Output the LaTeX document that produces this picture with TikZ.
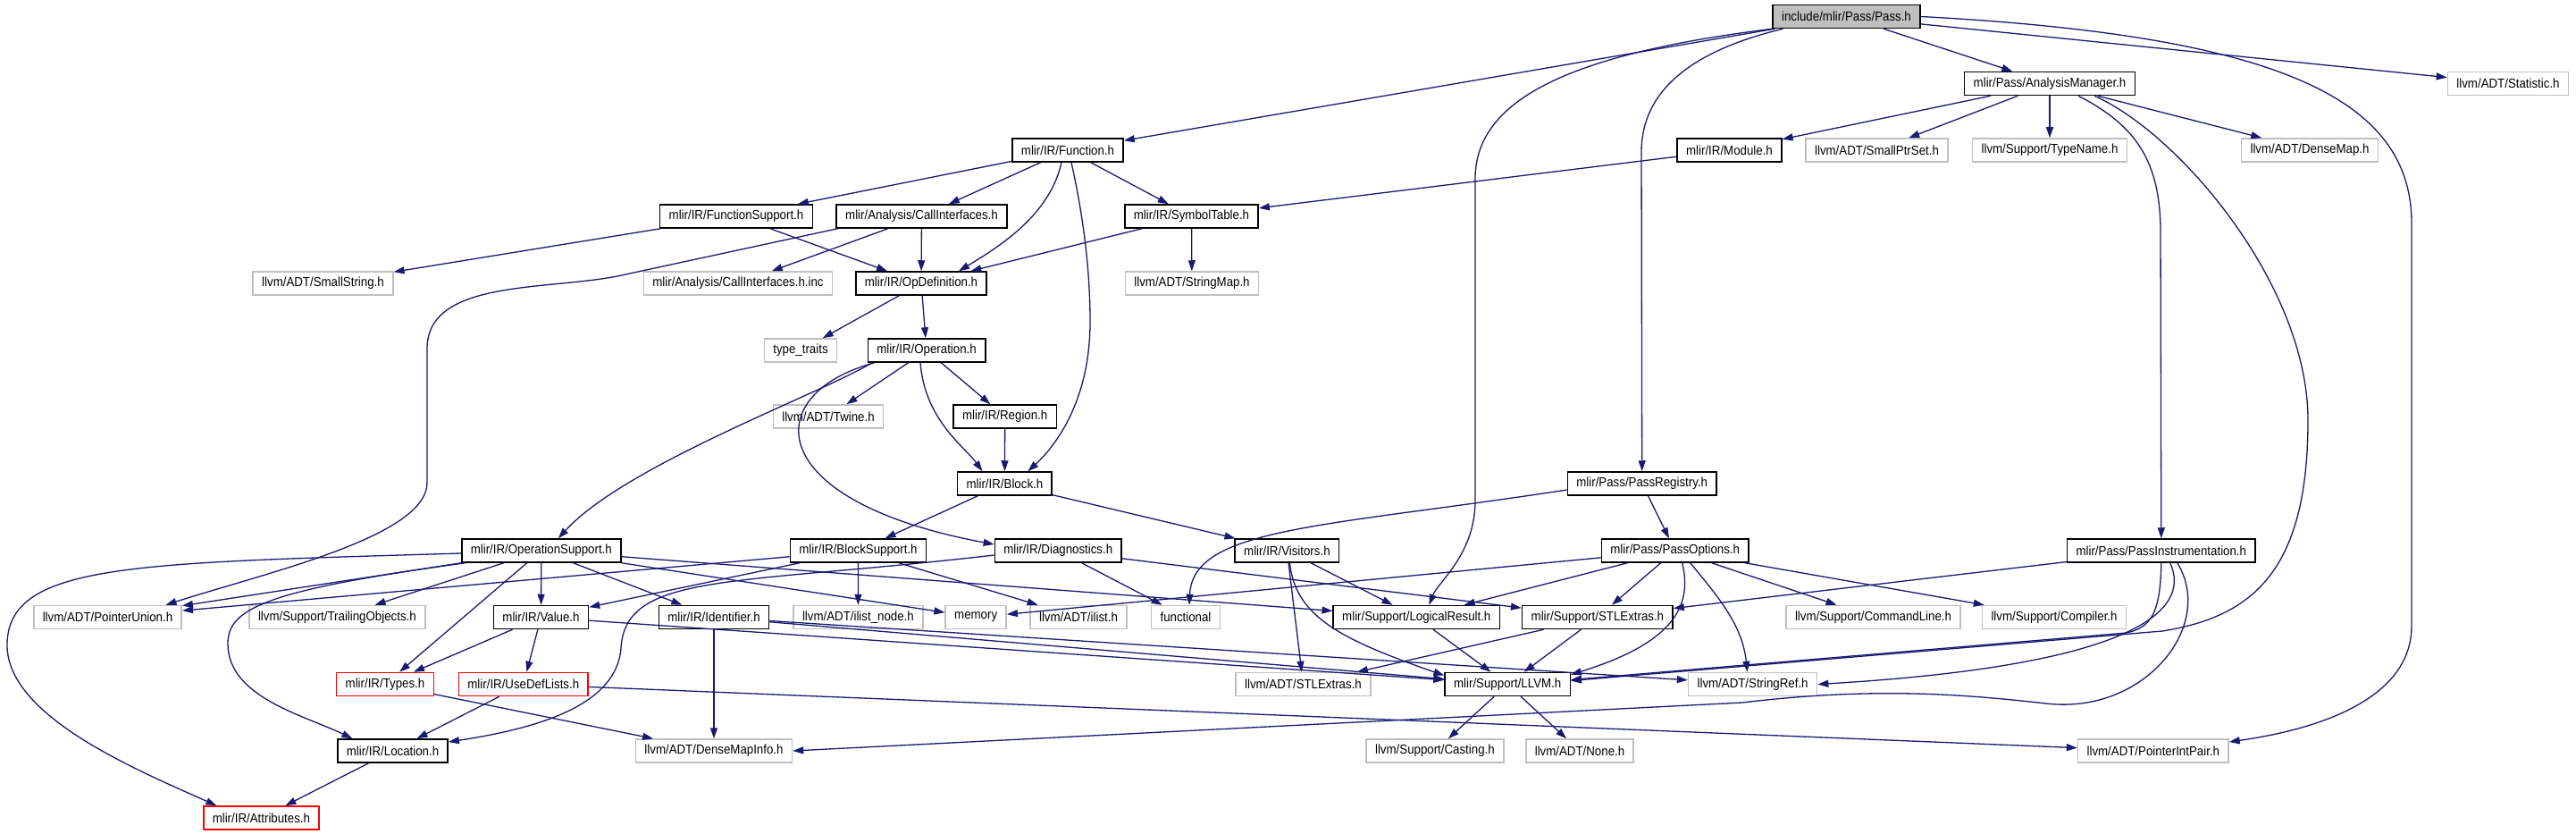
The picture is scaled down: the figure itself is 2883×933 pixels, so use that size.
\documentclass[tikz,border=0pt]{standalone}
\usepackage{fontspec}
\setmainfont{Liberation Sans}[FakeStretch=0.91]
\usetikzlibrary{arrows.meta}
\definecolor{edgeblue}{HTML}{191970}
\definecolor{extgray}{HTML}{BFBFBF}
\newcommand\depfont{\fontsize{14.6pt}{16pt}\selectfont}
\begin{document}
\begin{tikzpicture}[x=1pt, y=-1pt,
  hdr/.style={draw=black, line width=1.5pt, fill=white, minimum height=26pt, inner xsep=10pt, inner ysep=0pt, font=\depfont},
  ext/.style={hdr, draw=extgray},
  trunc/.style={hdr, draw=red},
  root/.style={hdr, fill=extgray},
  dep/.style={draw=edgeblue, line width=1.3pt, -{Triangle[length=12pt, width=8pt]}}]
\useasboundingbox (0,0) rectangle (2883,933);
\node[root] (pass) at (2066.5,18.5) {include/mlir/Pass/Pass.h};
\node[hdr] (anamgr) at (2294,93.5) {mlir/Pass/AnalysisManager.h};
\node[ext] (statistic) at (2807,93.5) {llvm/ADT/Statistic.h};
\node[hdr] (function) at (1195,168) {mlir/IR/Function.h};
\node[hdr] (module) at (1935.5,168) {mlir/IR/Module.h};
\node[ext] (smallptrset) at (2100.5,168) {llvm/ADT/SmallPtrSet.h};
\node[ext] (typename) at (2294,168) {llvm/Support/TypeName.h};
\node[ext] (densemap) at (2585,168) {llvm/ADT/DenseMap.h};
\node[hdr] (funcsupport) at (824,242) {mlir/IR/FunctionSupport.h};
\node[hdr] (callif) at (1031.5,242) {mlir/Analysis/CallInterfaces.h};
\node[hdr] (symtable) at (1333.5,242) {mlir/IR/SymbolTable.h};
\node[ext] (smallstring) at (361.5,317) {llvm/ADT/SmallString.h};
\node[ext] (callifinc) at (826,317) {mlir/Analysis/CallInterfaces.h.inc};
\node[hdr] (opdef) at (1031,317) {mlir/IR/OpDefinition.h};
\node[ext] (stringmap) at (1334,317) {llvm/ADT/StringMap.h};
\node[ext] (typetraits) at (896,392) {type\_traits};
\node[hdr] (operation) at (1037,392) {mlir/IR/Operation.h};
\node[ext] (twine) at (927,466) {llvm/ADT/Twine.h};
\node[hdr] (region) at (1124.7,466) {mlir/IR/Region.h};
\node[hdr] (block) at (1124.4,541) {mlir/IR/Block.h};
\node[hdr] (passreg) at (1837.7,541) {mlir/Pass/PassRegistry.h};
\node[hdr] (opsupport) at (605.8,616) {mlir/IR/OperationSupport.h};
\node[hdr] (blocksupport) at (960.5,616) {mlir/IR/BlockSupport.h};
\node[hdr] (diagnostics) at (1184.3,616) {mlir/IR/Diagnostics.h};
\node[hdr] (visitors) at (1440.4,616) {mlir/IR/Visitors.h};
\node[hdr] (passopts) at (1874.7,616) {mlir/Pass/PassOptions.h};
\node[hdr] (passinstr) at (2418.8,616) {mlir/Pass/PassInstrumentation.h};
\node[ext] (ptrunion) at (120.5,690.5) {llvm/ADT/PointerUnion.h};
\node[ext] (trailing) at (377.4,690.5) {llvm/Support/TrailingObjects.h};
\node[hdr] (value) at (605.5,690.5) {mlir/IR/Value.h};
\node[hdr] (identifier) at (799,690.5) {mlir/IR/Identifier.h};
\node[ext] (ilistnode) at (960.4,690.5) {llvm/ADT/ilist\_node.h};
\node[ext] (memory) at (1092.2,690.5) {memory};
\node[ext] (ilist) at (1207,690.5) {llvm/ADT/ilist.h};
\node[ext] (functional) at (1327,690.5) {functional};
\node[hdr] (logical) at (1585.3,690.5) {mlir/Support/LogicalResult.h};
\node[hdr] (stlextras) at (1787.9,690.5) {mlir/Support/STLExtras.h};
\node[ext] (cmdline) at (2096.5,690.5) {llvm/Support/CommandLine.h};
\node[ext] (compiler) at (2299,690.5) {llvm/Support/Compiler.h};
\node[trunc] (types) at (431,765.5) {mlir/IR/Types.h};
\node[trunc] (usedef) at (585.8,765.5) {mlir/IR/UseDefLists.h};
\node[ext] (llvmstl) at (1458.5,765.5) {llvm/ADT/STLExtras.h};
\node[hdr] (llvmh) at (1687.2,765.5) {mlir/Support/LLVM.h};
\node[ext] (stringref) at (1961.6,765.5) {llvm/ADT/StringRef.h};
\node[hdr] (location) at (439.5,840) {mlir/IR/Location.h};
\node[ext] (densemapinfo) at (799,840) {llvm/ADT/DenseMapInfo.h};
\node[ext] (casting) at (1605.9,840) {llvm/Support/Casting.h};
\node[ext] (none) at (1768,840) {llvm/ADT/None.h};
\node[ext] (ptrintpair) at (2409.8,840) {llvm/ADT/PointerIntPair.h};
\node[trunc] (attributes) at (292.4,915) {mlir/IR/Attributes.h};
\draw[dep] (pass) -- (function);
\draw[dep] (pass) -- (anamgr);
\draw[dep] (pass) -- (statistic);
\draw[dep] (pass.south west) .. controls (1760,60) and (1651,110) .. (1651,200) -- (1651,560) .. controls (1651,620) and (1610,650) .. ([xshift=14pt]logical.north);
\draw[dep] ([xshift=12pt]pass.south west) .. controls (1880,60) and (1837,110) .. (1837,170) -- (passreg.north);
\draw[dep] (pass.east) .. controls (2550,40) and (2699,110) .. (2699,250) -- (2699,700) .. controls (2699,780) and (2600,815) .. ([yshift=10pt]ptrintpair.east);
\draw[dep] (anamgr) -- (module);
\draw[dep] (anamgr) -- (smallptrset);
\draw[dep] (anamgr) -- (typename);
\draw[dep] (anamgr) -- (densemap);
\draw[dep] ([xshift=32pt]anamgr.south) .. controls (2390,140) and (2418,180) .. (2418,260) -- (passinstr.north);
\draw[dep] ([xshift=50pt]anamgr.south) .. controls (2440,150) and (2583,320) .. (2583,470) .. controls (2583,640) and (2520,690) .. (2420,706) -- ([yshift=4pt]llvmh.east);
\draw[dep] (function) -- (funcsupport);
\draw[dep] (function) -- (callif);
\draw[dep] ([xshift=-7pt]function.south) .. controls (1175,240) and (1120,275) .. ([xshift=42pt]opdef.north);
\draw[dep] (function) -- (symtable);
\draw[dep] ([xshift=4pt]function.south) .. controls (1212,240) and (1220,300) .. (1220,360) .. controls (1220,450) and (1180,500) .. ([xshift=26pt]block.north);
\draw[dep] (module) -- (symtable);
\draw[dep] (funcsupport) -- (smallstring);
\draw[dep] (funcsupport) -- (opdef);
\draw[dep] (callif) -- (callifinc);
\draw[dep] (callif) -- (opdef);
\draw[dep] ([xshift=-94pt]callif.south) -- (700,307) .. controls (620,326) and (478,310) .. (478,390) -- (478,540) .. controls (478,600) and (300,640) .. ([xshift=65pt]ptrunion.north);
\draw[dep] (symtable) -- (opdef);
\draw[dep] (symtable) -- (stringmap);
\draw[dep] (opdef) -- (typetraits);
\draw[dep] (opdef) -- (operation);
\draw[dep] (operation) -- (twine);
\draw[dep] (operation) -- (region);
\draw[dep] ([xshift=-7pt]operation.south) .. controls (1035,470) and (1080,500) .. ([xshift=-25pt]block.north);
\draw[dep] ([xshift=-61pt]operation.south) .. controls (920,440) and (700,520) .. ([xshift=19pt]opsupport.north);
\draw[dep] ([xshift=-58pt]operation.south) .. controls (850,440) and (850,560) .. ([yshift=7pt]diagnostics.west);
\draw[dep] (region) -- (block);
\draw[dep] (block) -- (blocksupport);
\draw[dep] (block) -- (visitors);
\draw[dep] ([yshift=-7pt]passreg.west) .. controls (1480,590) and (1335,590) .. ([xshift=4pt]functional.north);
\draw[dep] (passreg) -- (passopts);
\draw[dep] ([yshift=-3pt]opsupport.west) .. controls (150,630) and (10,630) .. (8,720) .. controls (6,800) and (150,860) .. ([xshift=-50pt]attributes.north);
\draw[dep] (opsupport) -- (ptrunion);
\draw[dep] ([xshift=-85pt]opsupport.south) .. controls (300,660) and (255,680) .. (255,720) .. controls (255,780) and (340,800) .. ([xshift=-45pt]location.north);
\draw[dep] (opsupport) -- (trailing);
\draw[dep] (opsupport) -- (types);
\draw[dep] (opsupport) -- (value);
\draw[dep] (opsupport) -- (identifier);
\draw[dep] (opsupport) -- (memory);
\draw[dep] (opsupport) -- (logical);
\draw[dep] (blocksupport) -- (ptrunion);
\draw[dep] (blocksupport) -- (value);
\draw[dep] (blocksupport) -- (ilistnode);
\draw[dep] (blocksupport) -- (ilist);
\draw[dep] ([yshift=-5pt]diagnostics.west) .. controls (820,655) and (700,640) .. (695,725) .. controls (690,790) and (600,815) .. ([yshift=10pt]location.east);
\draw[dep] (diagnostics) -- (functional);
\draw[dep] (diagnostics) -- (stlextras);
\draw[dep] (visitors) -- (logical);
\draw[dep] (visitors) -- (llvmstl);
\draw[dep] ([xshift=3pt]visitors.south) .. controls (1450,690) and (1500,715) .. ([yshift=-4pt]llvmh.north west);
\draw[dep] (passopts) -- (memory);
\draw[dep] (passopts) -- (logical);
\draw[dep] (passopts) -- (stlextras);
\draw[dep] ([xshift=8pt]passopts.south) .. controls (1895,680) and (1870,720) .. ([yshift=-3pt]llvmh.north east);
\draw[dep] ([xshift=17pt]passopts.south) .. controls (1925,670) and (1950,700) .. ([xshift=-6pt]stringref.north);
\draw[dep] (passopts) -- (cmdline);
\draw[dep] (passopts) -- (compiler);
\draw[dep] (passinstr) -- (stlextras);
\draw[dep] (passinstr.south) .. controls (2418,690) and (2405,702) .. (2380,708) -- ([yshift=5pt]llvmh.east);
\draw[dep] ([xshift=10pt]passinstr.south) .. controls (2460,700) and (2330,748) .. (stringref.east);
\draw[dep] ([xshift=18pt]passinstr.south) .. controls (2480,700) and (2400,800) .. (2290,787) .. controls (2200,777) and (2100,768) .. (1950,786) -- (densemapinfo.east);
\draw[dep] (value) -- (types);
\draw[dep] (value) -- (usedef);
\draw[dep] (value) -- (llvmh);
\draw[dep] (identifier) -- (densemapinfo);
\draw[dep] (identifier) -- (llvmh);
\draw[dep] (identifier) -- (stringref);
\draw[dep] (types) -- (densemapinfo);
\draw[dep] (usedef) -- (location);
\draw[dep] (usedef) -- (ptrintpair);
\draw[dep] (location) -- (attributes);
\draw[dep] (logical) -- (llvmh);
\draw[dep] (stlextras) -- (llvmstl);
\draw[dep] (stlextras) -- (llvmh);
\draw[dep] (llvmh) -- (casting);
\draw[dep] (llvmh) -- (none);
\end{tikzpicture}
\end{document}
